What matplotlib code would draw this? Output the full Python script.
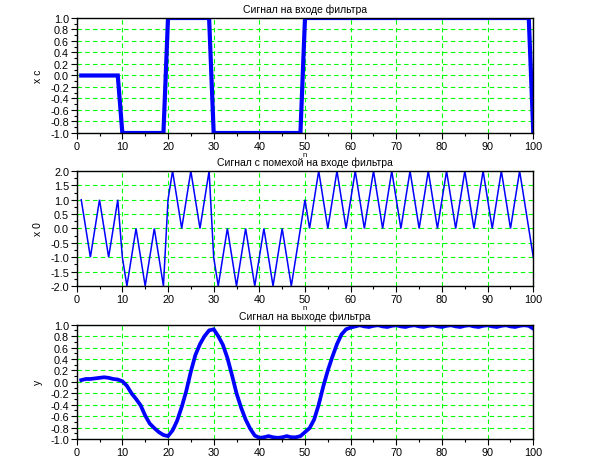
import numpy as np
import matplotlib
matplotlib.use('Agg')
import matplotlib.pyplot as plt
from matplotlib.ticker import MultipleLocator, FormatStrFormatter

plt.rcParams['font.family'] = ['Liberation Sans', 'DejaVu Sans']

n = list(range(1, 101))

# input signal
xc = [0] * 9 + [-1] * 10 + [1] * 10 + [-1] * 20 + [1] * 50 + [-1]

# signal with noise
x0 = [1, 0, -1, 0, 1, 0, -1, 0, 1,
      -1, -2, -1, 0, -1, -2, -1, 0, -1, -2,
      1, 2, 1, 0, 1, 2, 1, 0, 1, 2,
      -1, -2, -1, 0, -1, -2, -1, 0, -1, -2,
      -1, 0, -1, -2, -1, 0, -1, -2, -1, 0,
      1, 0, 1, 2, 1, 0, 1, 2, 1, 0,
      1, 2, 1, 0, 1, 2, 1, 0, 1, 2,
      1, 0, 1, 2, 1, 0, 1, 2, 1, 0,
      1, 2, 1, 0, 1, 2, 1, 0, 1, 2,
      1, 0, 1, 2, 1, 0, 1, 2, 1, 0,
      -1]

# filter output
y = [0.03, 0.05, 0.05, 0.06, 0.07, 0.08, 0.07, 0.05, 0.04, 0.01,
     -0.07, -0.20, -0.30, -0.41, -0.59, -0.73, -0.81, -0.88, -0.93, -0.95,
     -0.85, -0.68, -0.44, -0.16, 0.18, 0.47, 0.66, 0.80, 0.90, 0.92,
     0.80, 0.65, 0.42, 0.12, -0.20, -0.45, -0.66, -0.82, -0.94, -0.98,
     -0.97, -0.95, -0.97, -0.98, -0.97, -0.95, -0.97, -0.97, -0.95, -0.88,
     -0.81, -0.66, -0.40, -0.08, 0.20, 0.44, 0.66, 0.83, 0.92, 0.95,
     0.97, 0.99, 0.97, 0.96, 0.98, 0.99, 0.97, 0.96, 0.98, 0.99,
     0.97, 0.96, 0.98, 0.99, 0.97, 0.96, 0.98, 0.99, 0.97, 0.96,
     0.98, 0.99, 0.97, 0.96, 0.98, 0.99, 0.97, 0.96, 0.98, 0.99,
     0.97, 0.96, 0.98, 0.99, 0.97, 0.96, 0.98, 0.99, 0.98, 0.93]

titles = ['Сигнал на входе фильтра',
          'Сигнал с помехой на входе фильтра',
          'Сигнал на выходе фильтра']
ylabels = ['x c', 'x 0', 'y']

fig = plt.figure(figsize=(6.1, 4.6), dpi=100)
boxes = [[0.1257, 0.7087, 0.7486, 0.25],
         [0.1257, 0.3761, 0.7486, 0.25],
         [0.1257, 0.0435, 0.7486, 0.2485]]

series = [xc, x0, y]
widths = [3.0, 1.1, 2.7]
ylims = [(-1, 1), (-2, 2), (-1, 1)]
ysteps = [0.2, 0.5, 0.2]

for i in range(3):
    ax = fig.add_axes(boxes[i])
    ax.plot(n, series[i], color='#0000ff', lw=widths[i], solid_joinstyle='miter')
    ax.set_xlim(0, 100)
    ax.set_ylim(*ylims[i])
    ax.xaxis.set_major_locator(MultipleLocator(10))
    ax.xaxis.set_minor_locator(MultipleLocator(5))
    ax.yaxis.set_major_locator(MultipleLocator(ysteps[i]))
    ax.yaxis.set_minor_locator(MultipleLocator(ysteps[i] / 2))
    ax.yaxis.set_major_formatter(FormatStrFormatter('%.1f'))
    ax.tick_params(which='both', direction='out', labelsize=7.8, pad=1.5, colors='black')
    ax.tick_params(which='major', length=4, width=0.8)
    ax.tick_params(which='minor', length=2.5, width=0.8)
    ax.grid(True, which='major', color='#00ff00', linestyle=(0, (4, 3)), lw=0.8)
    for s in ax.spines.values():
        s.set_linewidth(1.0)
    ax.set_title(titles[i], fontsize=7.5, pad=4)
    ax.set_ylabel(ylabels[i], fontsize=7.5, labelpad=5)
    if i < 2:
        ax.set_xlabel('n', fontsize=5.5, labelpad=0)

fig.savefig('out.png', dpi=100)
